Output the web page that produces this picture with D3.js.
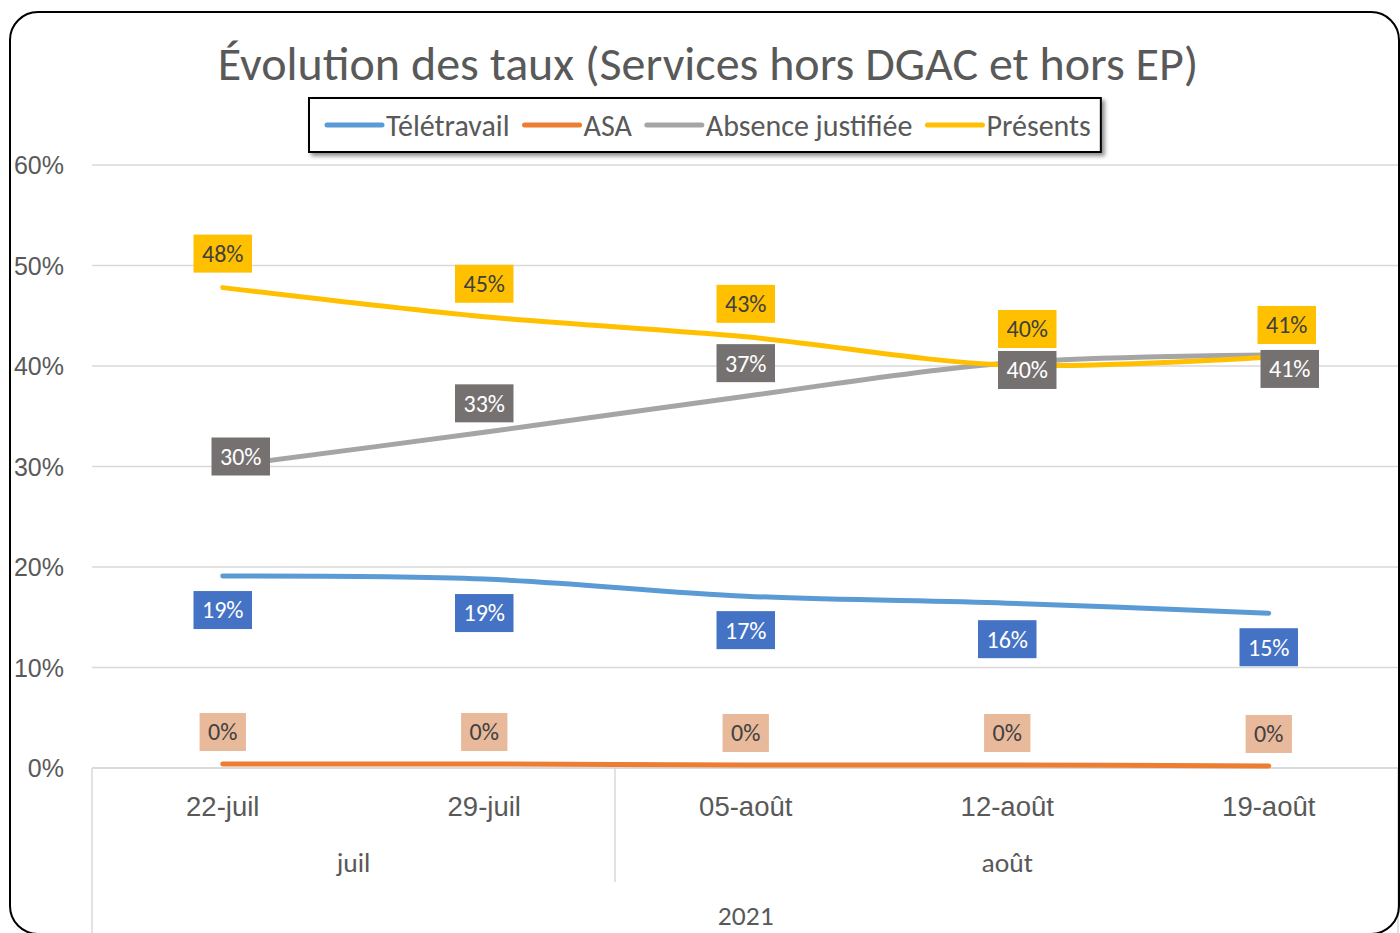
<!DOCTYPE html>
<html>
<head>
<meta charset="utf-8">
<script src="https://cdn.jsdelivr.net/npm/d3@7"></script>
<style>
  body { margin: 0; background: #fff; }
  svg { display: block; font-family: Carlito, Calibri, Lato, sans-serif; }
</style>
</head>
<body>
<svg id="chart" width="1400" height="933"></svg>
<script>
// data
const dates = ["22-juil", "29-juil", "05-août", "12-août", "19-août"];
const year = "2021";
const seriesNames = ["Télétravail", "ASA", "Absence justifiée", "Présents"];
const teletravail = [0.191, 0.188, 0.171, 0.164, 0.154];
const asa = [0.004, 0.004, 0.003, 0.003, 0.002];
const absence = [0.300, 0.334, 0.370, 0.403, 0.411];
const presents = [0.478, 0.449, 0.429, 0.401, 0.409];
const yTicks = [0, 0.1, 0.2, 0.3, 0.4, 0.5, 0.6];

const W = 1400, H = 933;
const MARGIN = {top: 165, right: 0.5, bottom: 165, left: 92};
const plotBottom = H - MARGIN.bottom; // 768

const lineColors = ["#5B9BD5", "#ED7D31", "#A5A5A5", "#FFC000"];
const boxColors = ["#4472C4", "#E8B99B", "#767171", "#FFC000"];
const boxText = ["#ffffff", "#404040", "#ffffff", "#404040"];
// label placement: default vertical offset plus per-point nudges
const labelDy = [34, -32, -31, -34];
const labelNudge = [
  [[0,0],[0,0],[0,0],[0,2],[0,0]],
  [[0,0],[0,0],[0,0],[0,0],[0,0]],
  [[18,21],[0,2],[0,-2],[20,38],[21,45]],
  [[0,0],[0,1],[0,1],[20,-2],[18,2]]
];

const series = seriesNames.map((name, i) => ({
  name, values: [teletravail, asa, absence, presents][i],
  color: lineColors[i], box: boxColors[i], text: boxText[i], dy: labelDy[i], nudge: labelNudge[i]
}));

const svg = d3.select("#chart");

const defs = svg.append("defs");
const shadow = defs.append("filter").attr("id", "shadow")
  .attr("x", "-5%").attr("y", "-20%").attr("width", "110%").attr("height", "160%");
shadow.append("feDropShadow").attr("dx", 3).attr("dy", 3).attr("stdDeviation", 2)
  .attr("flood-color", "#000").attr("flood-opacity", 0.45);

const xScale = d3.scaleBand().domain(dates).range([MARGIN.left, W - MARGIN.right]).padding(0);
const xc = d => xScale(d) + xScale.bandwidth() / 2;
const yScale = d3.scaleLinear().domain([0, 0.6]).range([plotBottom, MARGIN.top]);

// gridlines
svg.append("g").selectAll("line").data(yTicks).join("line")
  .attr("x1", MARGIN.left).attr("x2", W - 2)
  .attr("y1", d => yScale(d)).attr("y2", d => yScale(d))
  .attr("stroke", "#D9D9D9").attr("stroke-width", 1.5);

// y axis labels
const yAxis = d3.axisLeft(yScale).tickValues(yTicks).tickFormat(d3.format(".0%")).tickSize(0).tickPadding(0);
const yg = svg.append("g").attr("transform", "translate(64,0)").call(yAxis);
yg.select(".domain").remove();
yg.selectAll("text").attr("font-family", null).attr("font-size", 25).attr("fill", "#595959").attr("dy", "0.34em");

// multi-level category axis
const monthOf = d => d.split("-")[1];
const months = Array.from(d3.group(dates, monthOf), ([m, ds]) => ({m, ds}));
const axisG = svg.append("g").attr("stroke", "#D9D9D9").attr("stroke-width", 1.5);
axisG.append("line").attr("x1", MARGIN.left).attr("x2", W - 2).attr("y1", plotBottom).attr("y2", plotBottom);
axisG.append("line").attr("x1", MARGIN.left).attr("x2", MARGIN.left).attr("y1", plotBottom).attr("y2", H);
axisG.append("line").attr("x1", W - 2).attr("x2", W - 2).attr("y1", plotBottom).attr("y2", H);
months.slice(1).forEach(g => {
  const xb = xScale(g.ds[0]);
  axisG.append("line").attr("x1", xb).attr("x2", xb).attr("y1", plotBottom).attr("y2", 882);
});

const xAxis = d3.axisBottom(xScale).tickSize(0).tickPadding(0);
const xg = svg.append("g").attr("transform", `translate(0,${plotBottom + 48})`).call(xAxis);
xg.select(".domain").remove();
xg.selectAll("text").attr("font-family", null).attr("font-size", 27.5).attr("fill", "#595959").attr("dy", 0);

svg.append("g").selectAll("text").data(months).join("text")
  .attr("x", g => (xScale(g.ds[0]) + xScale(g.ds[g.ds.length - 1]) + xScale.bandwidth()) / 2)
  .attr("y", plotBottom + 104)
  .attr("text-anchor", "middle").attr("font-size", 27.5).attr("fill", "#595959")
  .text(g => g.m);
svg.append("text").attr("x", (MARGIN.left + W - MARGIN.right) / 2).attr("y", plotBottom + 157)
  .attr("text-anchor", "middle").attr("font-size", 27.5).attr("fill", "#595959").text(year);

// lines
const line = d3.line().x((v, i) => xc(dates[i])).y(v => yScale(v)).curve(d3.curveCatmullRom.alpha(0.5));
svg.append("g").selectAll("path").data(series).join("path")
  .attr("d", s => line(s.values))
  .attr("fill", "none").attr("stroke", s => s.color)
  .attr("stroke-width", 5).attr("stroke-linecap", "round").attr("stroke-linejoin", "round");

// data labels
const fmt = d3.format(".0%");
series.forEach(s => {
  const g = svg.append("g");
  s.values.forEach((v, i) => {
    const cx = xc(dates[i]) + s.nudge[i][0];
    const cy = yScale(v) + s.dy + s.nudge[i][1];
    const t = g.append("text").attr("x", cx).attr("y", cy).attr("dy", "0.35em")
      .attr("text-anchor", "middle").attr("font-size", 24).attr("fill", s.text).text(fmt(v));
    const w = t.node().getComputedTextLength() + 17;
    g.insert("rect", () => t.node()).attr("x", cx - w / 2).attr("y", cy - 19)
      .attr("width", w).attr("height", 38).attr("fill", s.box);
  });
});

// title
svg.append("text").attr("x", 708).attr("y", 80).attr("text-anchor", "middle")
  .attr("font-size", 48).attr("fill", "#595959")
  .text("Évolution des taux (Services hors DGAC et hors EP)");

// legend
const lg = svg.append("g");
const lbox = lg.append("rect").attr("x", 309).attr("y", 98).attr("height", 54)
  .attr("fill", "#fff").attr("stroke", "#000").attr("stroke-width", 2).attr("filter", "url(#shadow)");
let lx = 327;
series.forEach((s, i) => {
  lg.append("line").attr("x1", lx).attr("x2", lx + 55).attr("y1", 125).attr("y2", 125)
    .attr("stroke", s.color).attr("stroke-width", 5).attr("stroke-linecap", "round");
  const t = lg.append("text").attr("x", lx + 59).attr("y", 125).attr("dy", "0.35em")
    .attr("font-size", 30).attr("fill", "#595959").text(s.name);
  lx += 59 + t.node().getComputedTextLength() + (i < series.length - 1 ? 15 : 0);
});
lbox.attr("width", lx + 10 - 309);

// chart frame
svg.append("rect").attr("x", 10).attr("y", 12).attr("width", 1389).attr("height", 922)
  .attr("rx", 28).attr("fill", "none").attr("stroke", "#000").attr("stroke-width", 2);
</script>
</body>
</html>
